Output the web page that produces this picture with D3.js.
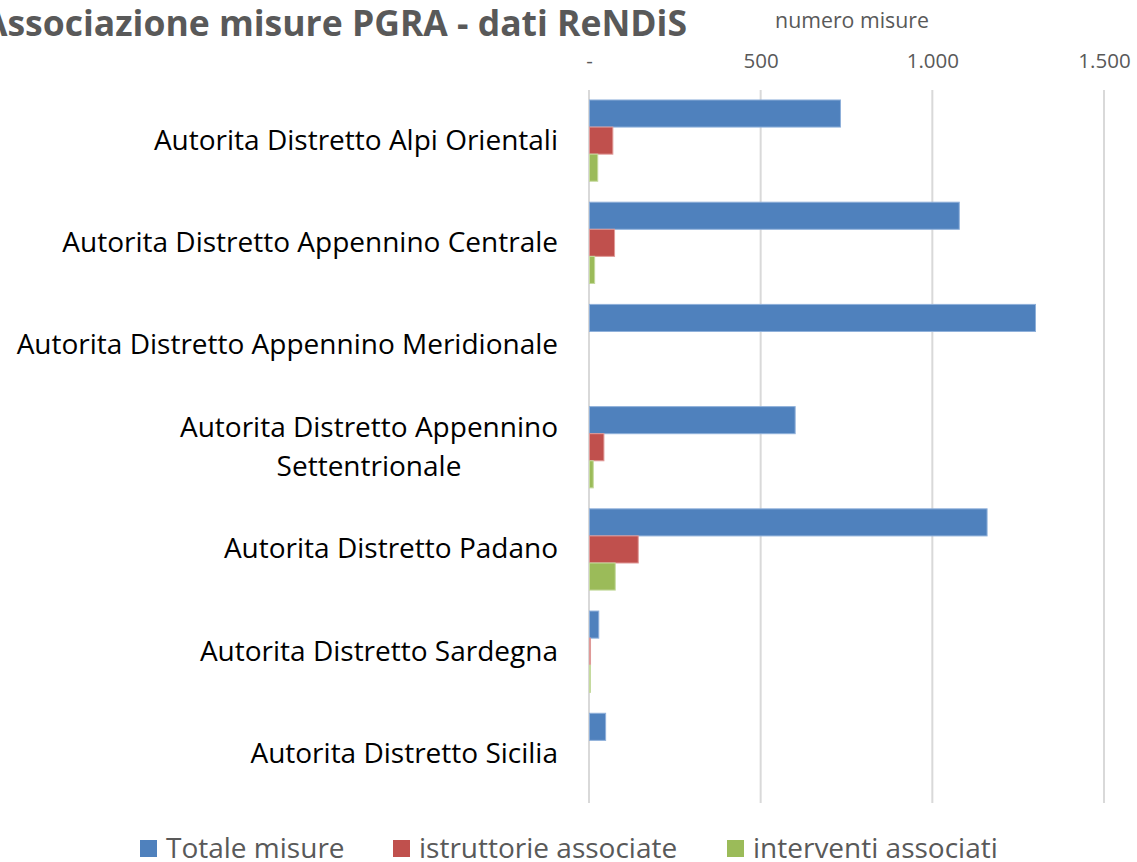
<!DOCTYPE html>
<html><head><meta charset="utf-8">
<script src="https://cdn.jsdelivr.net/npm/d3@7"></script>
<style>html,body{margin:0;padding:0;background:#fff;overflow:hidden}</style>
</head><body>
<svg id="c" width="1137" height="862"></svg>
<script>
const categories = [
  "Autorita Distretto Alpi Orientali",
  "Autorita Distretto Appennino Centrale",
  "Autorita Distretto Appennino Meridionale",
  "Autorita Distretto Appennino Settentrionale",
  "Autorita Distretto Padano",
  "Autorita Distretto Sardegna",
  "Autorita Distretto Sicilia"
];
const seriesNames = ["Totale misure", "istruttorie associate", "interventi associati"];
const totaleMisure = [731, 1077, 1299, 599, 1158, 27, 47];
const istruttorieAssociate = [68, 73, 0, 42, 142, 3, 0];
const interventiAssociati = [24, 15, 0, 11, 75, 2, 0];
const tickValues = [0, 500, 1000, 1500];
const colors = ["#4F81BD", "#C0504D", "#9BBB59"];
const strokes = ["#8FB0DA", "#E09A98", "#C5DA9E"];

const seriesValues = [totaleMisure, istruttorieAssociate, interventiAssociati];
const svg = d3.select("#c");
const FONT = "'Open Sans', 'Noto Sans', sans-serif";

const x = d3.scaleLinear().domain([0, 1500]).range([589, 1104]);
const y = d3.scaleBand().domain(categories).range([89.5, 805]).paddingInner(0.205).paddingOuter(0.1025);
const ys = d3.scaleBand().domain(seriesNames).range([0, y.bandwidth()]);

const it = d3.formatLocale({decimal: ",", thousands: ".", grouping: [3], currency: ["€", ""]});
const fmt = v => v === 0 ? "-" : it.format(",d")(v);

// gridlines
svg.append("g").selectAll("line").data(tickValues).join("line")
  .attr("x1", d => x(d)).attr("x2", d => x(d))
  .attr("y1", 90).attr("y2", 803)
  .attr("stroke", "#D9D9D9").attr("stroke-width", 2);

// top axis
const axis = d3.axisTop(x).tickValues(tickValues).tickFormat(fmt).tickSize(0).tickPadding(0);
const ag = svg.append("g").attr("transform", "translate(0,68)").call(axis);
ag.select(".domain").remove();
ag.selectAll("text").attr("font-family", FONT).attr("font-size", 20.5).attr("fill", "#595959").attr("dy", 0);

svg.append("text").attr("x", 852).attr("y", 28).attr("text-anchor", "middle")
  .attr("font-family", FONT).attr("font-size", 21.3).attr("fill", "#595959").text("numero misure");

// bars
const groups = svg.append("g").selectAll("g").data(categories).join("g")
  .attr("transform", d => `translate(0,${y(d)})`);
groups.selectAll("rect").data((d, i) => seriesNames.map((s, j) => ({s, j, v: seriesValues[j][i]})).filter(e => e.v > 0))
  .join("rect")
  .attr("x", x(0) + 0.5)
  .attr("y", e => ys(e.s))
  .attr("width", e => Math.max(1, x(e.v) - x(0)))
  .attr("height", ys.bandwidth())
  .attr("fill", e => colors[e.j])
  .attr("stroke", e => strokes[e.j]).attr("stroke-width", 1);

// category labels
const labelX = 558;
svg.append("g").selectAll("text").data(categories).join("text")
  .attr("font-family", FONT).attr("font-size", 28).attr("fill", "#000")
  .each(function(d) {
    const t = d3.select(this);
    const cy = y(d) + y.bandwidth() / 2;
    if (d === "Autorita Distretto Appennino Settentrionale") {
      t.attr("text-anchor", "middle");
      t.append("tspan").attr("x", 369).attr("y", cy - 19 + 9).text("Autorita Distretto Appennino");
      t.append("tspan").attr("x", 369).attr("y", cy + 20 + 9).text("Settentrionale");
    } else {
      t.attr("text-anchor", "end").attr("x", labelX).attr("y", cy + 9).text(d);
    }
  });

// title
svg.append("text").attr("x", 687).attr("y", 36).attr("text-anchor", "end")
  .attr("font-family", FONT).attr("font-weight", "bold").attr("font-size", 35.5).attr("fill", "#595959")
  .text("Associazione misure PGRA - dati ReNDiS");

// legend
const legendX = [140, 393, 727];
const lg = svg.append("g").selectAll("g").data(seriesNames).join("g")
  .attr("transform", (d, i) => `translate(${legendX[i]},840)`);
lg.append("rect").attr("width", 17).attr("height", 17).attr("fill", (d, i) => colors[i]);
lg.append("text").attr("x", 26).attr("y", 18).attr("font-family", FONT).attr("font-size", 28)
  .attr("fill", "#595959").text(d => d);
</script>
</body></html>
